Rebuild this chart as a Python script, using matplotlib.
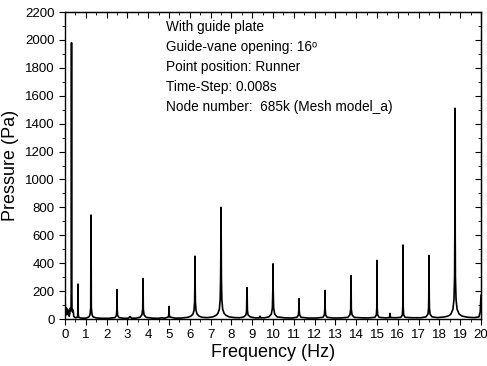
import matplotlib
matplotlib.use("Agg")
import matplotlib.pyplot as plt
from matplotlib.ticker import MultipleLocator

plt.rcParams['font.family'] = ['Liberation Sans', 'DejaVu Sans']

# spectrum (Hz, Pa)
freq = [0.0, 0.01, 0.03, 0.06, 0.09, 0.12, 0.15, 0.18, 0.2, 0.23, 0.26, 0.28,
        0.29, 0.30, 0.3125, 0.325, 0.335, 0.36, 0.39, 0.42, 0.46, 0.52,
        0.60, 0.615, 0.625, 0.635, 0.65, 0.72, 0.85, 1.0,
        1.15, 1.2, 1.235, 1.25, 1.265, 1.3, 1.35, 1.5, 1.8, 2.1,
        2.4, 2.47, 2.49, 2.5, 2.51, 2.53, 2.6, 2.85, 3.05, 3.125, 3.2, 3.4,
        3.6, 3.7, 3.735, 3.75, 3.765, 3.8, 3.9, 4.2, 4.5, 4.65, 4.8,
        4.97, 4.99, 5.0, 5.01, 5.03, 5.3, 5.6,
        5.9, 6.05, 6.15, 6.2, 6.23, 6.24, 6.25, 6.26, 6.27, 6.3, 6.35, 6.45, 6.6,
        6.85, 7.1, 7.25, 7.35, 7.42, 7.46, 7.48, 7.49, 7.5, 7.51, 7.52, 7.54,
        7.58, 7.65, 7.75, 7.9, 8.15, 8.4,
        8.6, 8.7, 8.73, 8.75, 8.77, 8.8, 8.9, 9.15, 9.33, 9.375, 9.42, 9.6,
        9.8, 9.92, 9.97, 9.99, 10.0, 10.01, 10.03, 10.08, 10.2, 10.6, 10.9,
        11.15, 11.22, 11.24, 11.25, 11.26, 11.28, 11.35, 11.7, 12.1,
        12.4, 12.47, 12.49, 12.5, 12.51, 12.53, 12.6, 12.9, 13.3,
        13.6, 13.7, 13.735, 13.75, 13.765, 13.8, 13.9, 14.3, 14.6,
        14.9, 14.97, 14.99, 15.0, 15.01, 15.03, 15.1, 15.4, 15.6, 15.625, 15.65,
        15.9, 16.15, 16.22, 16.24, 16.25, 16.26, 16.28, 16.35, 16.7, 17.1,
        17.35, 17.45, 17.48, 17.49, 17.5, 17.51, 17.52, 17.55, 17.65, 17.9,
        18.2, 18.4, 18.5, 18.55, 18.65, 18.7, 18.73, 18.74, 18.75, 18.76,
        18.77, 18.8, 18.85, 18.95, 19.1, 19.4, 19.7, 19.9, 19.96, 20.0]
pressure = [0, 110, 40, 80, 30, 70, 35, 60, 20, 40, 80, 60,
            80, 250, 1980, 250, 80, 50, 65, 20, 12, 8,
            15, 40, 250, 40, 15, 8, 6, 6,
            15, 30, 80, 745, 80, 30, 15, 8, 5, 5,
            10, 25, 60, 210, 60, 25, 10, 5, 6, 18, 6, 6,
            12, 30, 70, 290, 70, 30, 12, 6, 5, 9, 6,
            15, 35, 90, 35, 15, 6, 7,
            12, 20, 35, 60, 120, 220, 450, 220, 120, 60, 35, 20, 12,
            10, 15, 25, 40, 70, 140, 280, 450, 800, 450, 280, 140,
            70, 40, 25, 15, 10, 9,
            15, 30, 60, 225, 60, 30, 15, 8, 8, 20, 8, 9,
            15, 35, 80, 200, 395, 200, 80, 35, 15, 8, 7,
            12, 30, 60, 145, 60, 30, 12, 7, 7,
            12, 30, 70, 205, 70, 30, 12, 7, 8,
            12, 30, 70, 310, 70, 30, 12, 8, 8,
            12, 30, 80, 420, 80, 30, 12, 8, 10, 40, 10,
            9, 12, 30, 90, 530, 90, 30, 12, 9, 9,
            15, 35, 80, 180, 455, 180, 80, 35, 15, 10,
            14, 20, 28, 35, 70, 140, 300, 600, 1510, 600,
            300, 140, 70, 35, 20, 12, 10, 15, 50, 170]

info = ["With guide plate",
        "Guide-vane opening: 16\u1d52",
        "Point position: Runner",
        "Time-Step: 0.008s",
        "Node number:  685k (Mesh model_a)"]

fig = plt.figure(figsize=(4.87, 3.66), dpi=100)
ax = fig.add_axes([0.1335, 0.1284, 0.8542, 0.8388])
ax.plot(freq, pressure, color='black', lw=1.2)

ax.set_xlim(0, 20)
ax.set_ylim(0, 2200)
ax.xaxis.set_major_locator(MultipleLocator(1))
ax.xaxis.set_minor_locator(MultipleLocator(0.5))
ax.yaxis.set_major_locator(MultipleLocator(200))
ax.yaxis.set_minor_locator(MultipleLocator(100))
ax.tick_params(which='both', direction='out', top=False, right=False, labelsize=9.5)
ax.tick_params(which='major', length=4)
ax.tick_params(which='minor', length=2)

# mirrored ticks on top/right pointing inward
sec_x = ax.secondary_xaxis('top')
sec_x.xaxis.set_major_locator(MultipleLocator(1))
sec_x.xaxis.set_minor_locator(MultipleLocator(0.5))
sec_x.tick_params(which='both', direction='in', labeltop=False)
sec_x.tick_params(which='major', length=4)
sec_x.tick_params(which='minor', length=2)
sec_y = ax.secondary_yaxis('right')
sec_y.yaxis.set_major_locator(MultipleLocator(200))
sec_y.yaxis.set_minor_locator(MultipleLocator(100))
sec_y.tick_params(which='both', direction='in', labelright=False)
sec_y.tick_params(which='major', length=4)
sec_y.tick_params(which='minor', length=2)

for s in ax.spines.values():
    s.set_linewidth(1.0)

ax.set_xlabel("Frequency (Hz)", fontsize=13, labelpad=2)
ax.set_ylabel("Pressure (Pa)", fontsize=13, labelpad=4)

for i, line in enumerate(info):
    ax.text(0.243, 0.938 - i * 0.065, line, transform=ax.transAxes,
            fontsize=9.8, va='baseline', ha='left')

fig.savefig("out.png", dpi=100)
